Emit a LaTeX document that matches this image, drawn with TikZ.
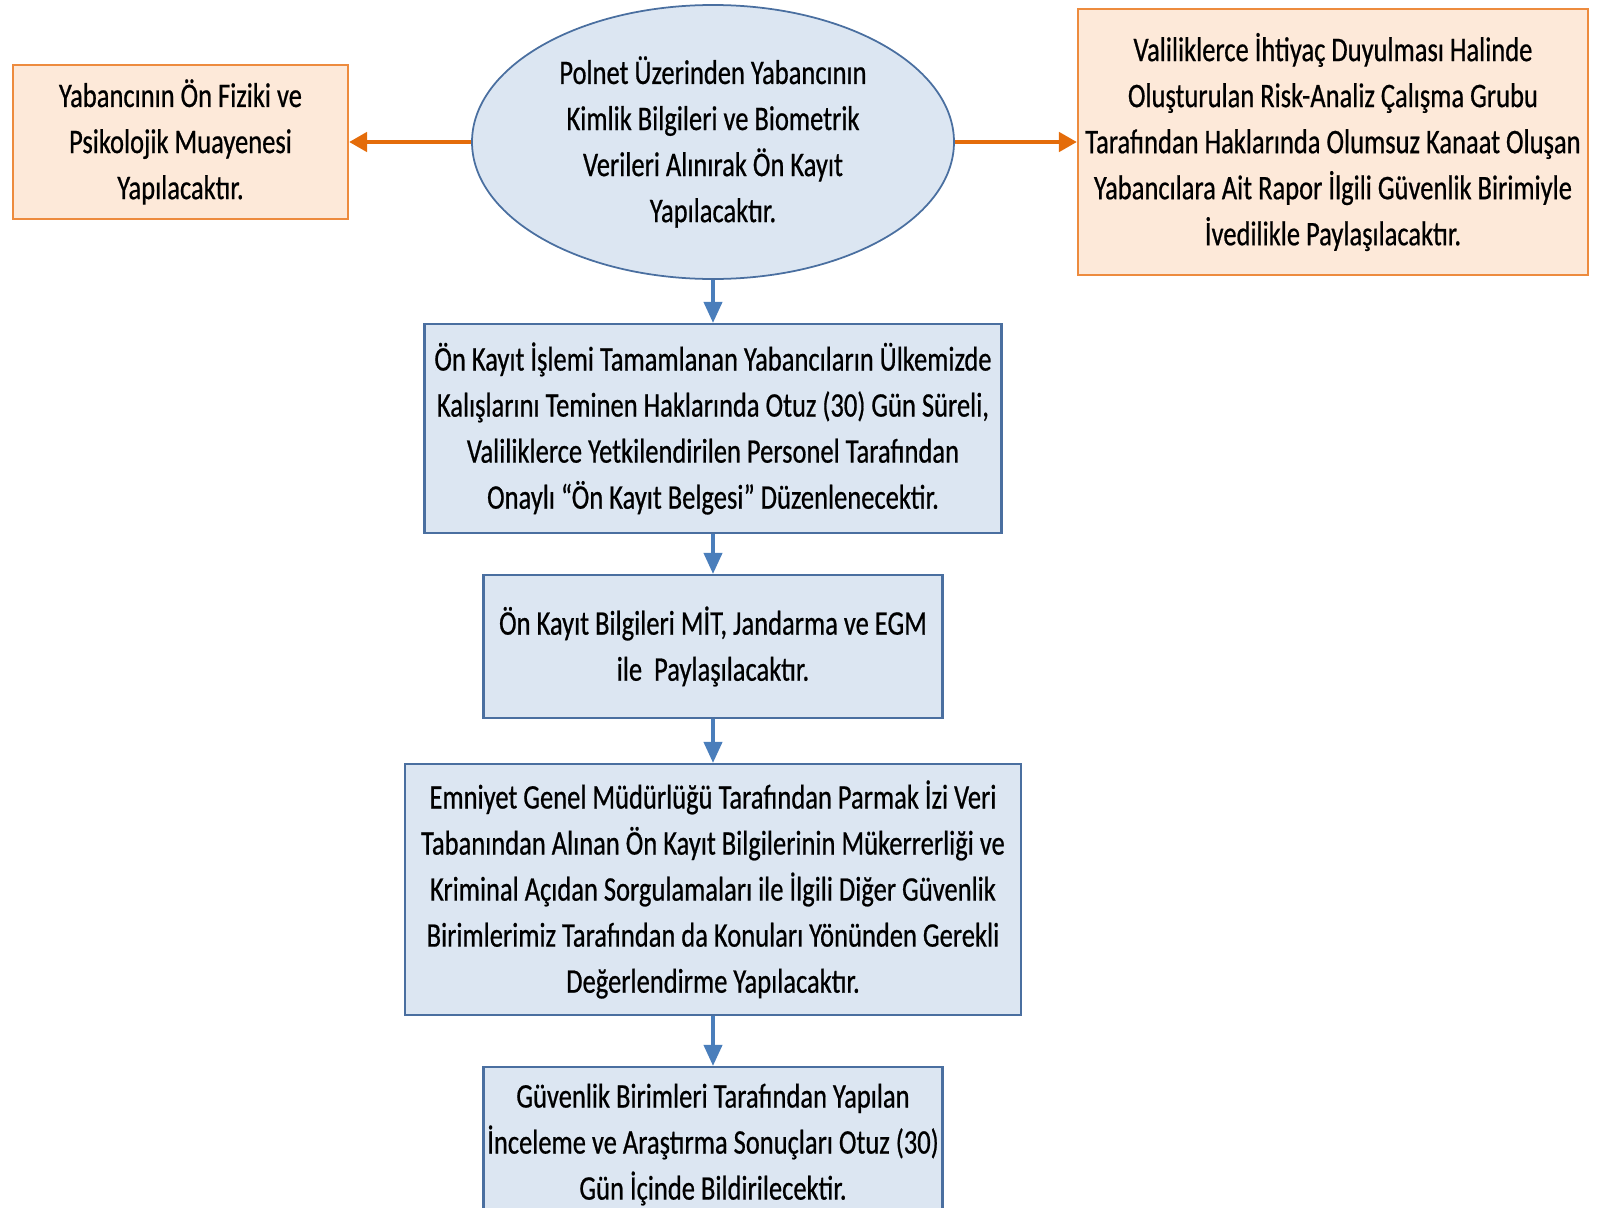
\documentclass[tikz,border=0pt]{standalone}
\usepackage{fontspec}
\setmainfont{Carlito}[FakeStretch=0.77, FakeBold=0.6]
\usetikzlibrary{arrows.meta, shapes.geometric, calc}
\definecolor{fillblue}{HTML}{DCE6F2}
\definecolor{lineblue}{HTML}{4A6FA0}
\definecolor{arrowblue}{HTML}{4A7EBB}
\definecolor{fillorange}{HTML}{FDE9D9}
\definecolor{lineorange}{HTML}{ED8B3E}
\definecolor{arroworange}{HTML}{E46C0A}
\tikzset{
    my-text/.style={
        align=center, inner sep=0pt, font=\fontsize{19.6}{26.2}\selectfont
    },
    my-blue-box/.style={
        my-text, draw=lineblue, fill=fillblue, line width=1.2pt
    },
    my-orange-box/.style={
        my-text, draw=lineorange, fill=fillorange, line width=1.2pt
    },
    my-ellipse/.style={
        my-text, ellipse, draw=lineblue, fill=fillblue, line width=1pt
    },
    my-blue-arrow/.style={
        draw=arrowblue, line width=2.2pt, -{Triangle[length=0.42cm, width=0.36cm]}
    },
    my-orange-arrow/.style={
        draw=arroworange, line width=2.6pt, -{Triangle[length=0.36cm, width=0.38cm]}
    },
}

\begin{document}
\begin{tikzpicture}

        % PAGE ---------------------------------------------------------------------------------------
        \useasboundingbox (0, 0) rectangle (31.98, -24.16);

        % PRE-REGISTRATION (ELLIPSE) -----------------------------------------------------------------
        \node[my-ellipse, minimum width=9.64cm, minimum height=5.48cm] (POLNET) at (14.26, -2.84)
            {Polnet Üzerinden Yabancının\\Kimlik Bilgileri ve Biometrik\\Verileri Alınırak Ön Kayıt\\Yapılacaktır.};

        % SIDE BOXES
        \node[my-orange-box, minimum width=6.7cm, minimum height=3.08cm] (MUAYENE) at ($(POLNET) + (-10.65, 0)$)
            {Yabancının Ön Fiziki ve\\Psikolojik Muayenesi\\Yapılacaktır.};
        \node[my-orange-box, minimum width=10.2cm, minimum height=5.32cm] (RISK) at ($(POLNET) + (12.4, 0)$)
            {Valiliklerce İhtiyaç Duyulması Halinde\\Oluşturulan Risk-Analiz Çalışma Grubu\\Tarafından Haklarında Olumsuz Kanaat Oluşan\\Yabancılara Ait Rapor İlgili Güvenlik Birimiyle\\İvedilikle Paylaşılacaktır.};

        % MAIN FLOW ----------------------------------------------------------------------------------
        \node[my-blue-box, minimum width=11.54cm, minimum height=4.18cm] (BELGE) at ($(POLNET) + (0, -5.73)$)
            {Ön Kayıt İşlemi Tamamlanan Yabancıların Ülkemizde\\Kalışlarını Teminen Haklarında Otuz (30) Gün Süreli,\\Valiliklerce Yetkilendirilen Personel Tarafından\\Onaylı “Ön Kayıt Belgesi” Düzenlenecektir.};
        \node[my-blue-box, minimum width=9.18cm, minimum height=2.86cm] (PAYLASIM) at ($(POLNET) + (0, -10.09)$)
            {Ön Kayıt Bilgileri MİT, Jandarma ve EGM\\ile~~Paylaşılacaktır.};
        \node[my-blue-box, minimum width=12.32cm, minimum height=5.02cm] (EGM) at ($(POLNET) + (0, -14.95)$)
            {Emniyet Genel Müdürlüğü Tarafından Parmak İzi Veri\\Tabanından Alınan Ön Kayıt Bilgilerinin Mükerrerliği ve\\Kriminal Açıdan Sorgulamaları ile İlgili Diğer Güvenlik\\Birimlerimiz Tarafından da Konuları Yönünden Gerekli\\Değerlendirme Yapılacaktır.};
        \node[my-blue-box, minimum width=9.18cm, minimum height=3.1cm] (SONUC) at ($(POLNET) + (0, -20.05)$)
            {Güvenlik Birimleri Tarafından Yapılan\\İnceleme ve Araştırma Sonuçları Otuz (30)\\Gün İçinde Bildirilecektir.};

        % ARROWS -------------------------------------------------------------------------------------
        \draw[my-orange-arrow] (POLNET.west) -- (MUAYENE.east);
        \draw[my-orange-arrow] (POLNET.east) -- (RISK.west);
        \draw[my-blue-arrow] (POLNET.south)   -- (BELGE.north);
        \draw[my-blue-arrow] (BELGE.south)    -- (PAYLASIM.north);
        \draw[my-blue-arrow] (PAYLASIM.south) -- (EGM.north);
        \draw[my-blue-arrow] (EGM.south)      -- (SONUC.north);

\end{tikzpicture}
\end{document}
